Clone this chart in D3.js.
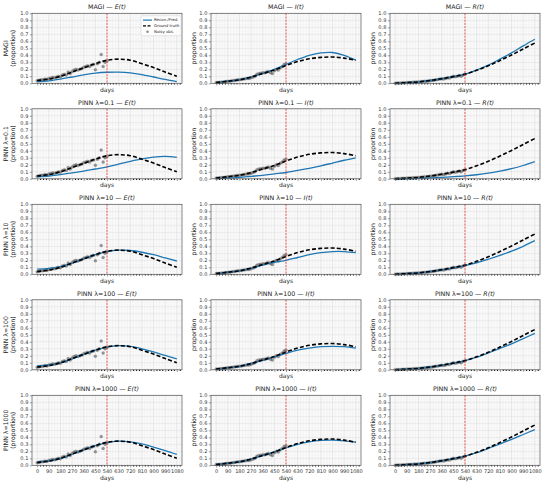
<!DOCTYPE html>
<html>
<head>
<meta charset="utf-8">
<script src="https://d3js.org/d3.v7.min.js"></script>
<style>
body {margin:0; background:#fff;}
svg text {font-family:'DejaVu Sans', sans-serif;}
</style>
</head>
<body>
<svg id="chart" width="550" height="486"></svg>
<script>
// ---- data ----
var days = [0, 90, 180, 270, 360, 450, 540, 630, 720, 810, 900, 990, 1080];
var xTicks = [0, 90, 180, 270, 360, 450, 540, 630, 720, 810, 900, 990, 1080];
var yTicks = [0, 0.1, 0.2, 0.3, 0.4, 0.5, 0.6, 0.7, 0.8, 0.9, 1.0];
var cutDay = 540;

var rowNames = ['MAGI', 'PINN \u03bb=0.1', 'PINN \u03bb=10', 'PINN \u03bb=100', 'PINN \u03bb=1000'];
var compNames = ['E', 'I', 'R'];

var truthE = [0.04, 0.06, 0.10, 0.16, 0.22, 0.28, 0.33, 0.345, 0.33, 0.28, 0.225, 0.16, 0.10];
var truthI = [0.01, 0.03, 0.05, 0.09, 0.14, 0.19, 0.255, 0.31, 0.35, 0.37, 0.375, 0.36, 0.33];
var truthR = [0.0, 0.01, 0.02, 0.04, 0.065, 0.095, 0.13, 0.185, 0.25, 0.325, 0.405, 0.49, 0.575];

// predictions, one array per row (MAGI, PINN 0.1, 10, 100, 1000)
var predE = [
  [0.02, 0.035, 0.06, 0.09, 0.12, 0.145, 0.158, 0.16, 0.15, 0.125, 0.09, 0.055, 0.025],
  [0.03, 0.04, 0.06, 0.085, 0.11, 0.14, 0.17, 0.21, 0.25, 0.285, 0.31, 0.32, 0.305],
  [0.075, 0.085, 0.11, 0.16, 0.22, 0.28, 0.325, 0.345, 0.34, 0.315, 0.28, 0.235, 0.19],
  [0.055, 0.07, 0.10, 0.155, 0.22, 0.28, 0.325, 0.345, 0.335, 0.30, 0.255, 0.205, 0.155],
  [0.045, 0.065, 0.10, 0.16, 0.22, 0.28, 0.325, 0.345, 0.335, 0.305, 0.26, 0.21, 0.155]
];
var predI = [
  [0.01, 0.03, 0.05, 0.09, 0.14, 0.20, 0.27, 0.34, 0.40, 0.435, 0.44, 0.40, 0.33],
  [0.005, 0.01, 0.02, 0.035, 0.05, 0.07, 0.09, 0.12, 0.15, 0.185, 0.225, 0.265, 0.30],
  [0.01, 0.03, 0.05, 0.085, 0.13, 0.17, 0.20, 0.24, 0.28, 0.31, 0.325, 0.325, 0.31],
  [0.01, 0.03, 0.05, 0.09, 0.135, 0.185, 0.235, 0.28, 0.31, 0.33, 0.335, 0.33, 0.31],
  [0.01, 0.03, 0.05, 0.09, 0.14, 0.19, 0.25, 0.30, 0.335, 0.355, 0.36, 0.35, 0.33]
];
var predR = [
  [0.0, 0.01, 0.02, 0.04, 0.065, 0.095, 0.13, 0.19, 0.26, 0.345, 0.435, 0.535, 0.63],
  [0.0, 0.002, 0.006, 0.012, 0.02, 0.03, 0.042, 0.058, 0.08, 0.11, 0.145, 0.19, 0.245],
  [0.0, 0.01, 0.02, 0.04, 0.063, 0.092, 0.125, 0.165, 0.215, 0.27, 0.33, 0.40, 0.48],
  [0.0, 0.01, 0.02, 0.04, 0.065, 0.095, 0.13, 0.18, 0.24, 0.305, 0.37, 0.445, 0.52],
  [0.0, 0.01, 0.02, 0.04, 0.065, 0.095, 0.13, 0.18, 0.24, 0.305, 0.37, 0.44, 0.51]
];

// noisy observations (same for every row)
var obsDays = [0, 15, 30, 45, 60, 75, 90, 105, 120, 135, 150, 165, 180, 195, 210, 225, 240, 255, 270,
  285, 300, 315, 330, 345, 360, 375, 390, 405, 420, 435, 450, 465, 480, 495, 510, 525, 540];
var obsE = [0.035, 0.045, 0.05, 0.05, 0.06, 0.055, 0.07, 0.075, 0.085, 0.08, 0.09, 0.10, 0.095, 0.12, 0.13,
  0.12, 0.16, 0.14, 0.17, 0.19, 0.20, 0.19, 0.20, 0.21, 0.23, 0.24, 0.25, 0.24, 0.26, 0.27, 0.195, 0.28,
  0.30, 0.41, 0.24, 0.30, 0.32];
var obsI = [0.01, 0.012, 0.015, 0.018, 0.02, 0.025, 0.03, 0.03, 0.035, 0.04, 0.045, 0.05, 0.05, 0.055, 0.06,
  0.065, 0.07, 0.07, 0.08, 0.09, 0.10, 0.13, 0.14, 0.145, 0.15, 0.15, 0.16, 0.17, 0.15, 0.14, 0.18, 0.20,
  0.19, 0.22, 0.24, 0.27, 0.28];
var obsR = [0.002, 0.003, 0.004, 0.005, 0.007, 0.008, 0.01, 0.011, 0.013, 0.015, 0.017, 0.019, 0.02, 0.023,
  0.026, 0.028, 0.031, 0.034, 0.038, 0.04, 0.045, 0.05, 0.055, 0.06, 0.065, 0.062, 0.07, 0.08, 0.075, 0.09,
  0.10, 0.095, 0.10, 0.11, 0.10, 0.12, 0.13];

var truthAll = [truthE, truthI, truthR];
var predAll = [predE, predI, predR];
var obsAll = [obsE, obsI, obsR];

// ---- layout ----
var colLeft = [32, 211, 390];
var rowTop = [13.3, 108.8, 204.3, 299.8, 395.3];
var pw = 150, ph = 70;
var blue = '#1f77b4';

var svg = d3.select('#chart');

var x = d3.scaleLinear().domain([-40, 1120]).range([0, pw]);
var y = d3.scaleLinear().domain([0, 1]).range([ph, 0]);

var minorX = d3.range(0, 1125, 22.5).filter(function(d) {return d % 90 !== 0;});
var minorY = d3.range(0, 1.001, 0.02).filter(function(d) {return Math.round(d * 100) % 10 !== 0;});

var line = d3.line()
  .x(function(d, i) {return x(days[i]);})
  .y(function(d) {return y(d);})
  .curve(d3.curveCatmullRom.alpha(0.5));

rowNames.forEach(function(rn, r) {
  compNames.forEach(function(cn, c) {
    var g = svg.append('g')
      .attr('transform', 'translate(' + colLeft[c] + ',' + rowTop[r] + ')');

    // grid
    g.selectAll('.gminx').data(minorX).enter().append('line')
      .attr('x1', function(d) {return x(d);}).attr('x2', function(d) {return x(d);})
      .attr('y1', 0).attr('y2', ph)
      .attr('stroke', '#ececec').attr('stroke-width', 0.4);
    g.selectAll('.gminy').data(minorY).enter().append('line')
      .attr('y1', function(d) {return y(d);}).attr('y2', function(d) {return y(d);})
      .attr('x1', 0).attr('x2', pw)
      .attr('stroke', '#ececec').attr('stroke-width', 0.4);
    g.selectAll('.gmajx').data(xTicks).enter().append('line')
      .attr('x1', function(d) {return x(d);}).attr('x2', function(d) {return x(d);})
      .attr('y1', 0).attr('y2', ph)
      .attr('stroke', '#d4d4d4').attr('stroke-width', 0.5);
    g.selectAll('.gmajy').data(yTicks).enter().append('line')
      .attr('y1', function(d) {return y(d);}).attr('y2', function(d) {return y(d);})
      .attr('x1', 0).attr('x2', pw)
      .attr('stroke', '#d4d4d4').attr('stroke-width', 0.5);

    // observations
    g.selectAll('.obs').data(obsAll[c]).enter().append('circle')
      .attr('cx', function(d, i) {return x(obsDays[i]);})
      .attr('cy', function(d) {return y(d);})
      .attr('r', 1.5)
      .attr('fill', '#555').attr('fill-opacity', 0.6)
      .attr('stroke', '#444').attr('stroke-opacity', 0.5).attr('stroke-width', 0.3);

    // prediction and truth
    g.append('path').attr('d', line(predAll[c][r]))
      .attr('fill', 'none').attr('stroke', blue).attr('stroke-width', 1.3);
    g.append('path').attr('d', line(truthAll[c]))
      .attr('fill', 'none').attr('stroke', '#000').attr('stroke-width', 1.6)
      .attr('stroke-dasharray', '4,2.2');

    // cut-off line
    g.append('line')
      .attr('x1', x(cutDay)).attr('x2', x(cutDay)).attr('y1', 0).attr('y2', ph)
      .attr('stroke', '#e8312f').attr('stroke-width', 0.8).attr('stroke-dasharray', '2,1.2');

    // axes
    var bottom = r === rowNames.length - 1;
    var xa = g.append('g').attr('transform', 'translate(0,' + ph + ')')
      .call(d3.axisBottom(x).tickValues(xTicks).tickSize(2.2).tickPadding(1.5)
        .tickFormat(bottom ? d3.format('d') : ''));
    g.append('g').attr('transform', 'translate(0,' + ph + ')')
      .call(d3.axisBottom(x).tickValues(minorX).tickSize(1.2).tickFormat(''))
      .call(function(s) {s.select('.domain').remove();});
    var ya = g.append('g')
      .call(d3.axisLeft(y).tickValues(yTicks).tickSize(2.2).tickPadding(1.5).tickFormat(d3.format('.1f')));
    [xa, ya].forEach(function(a) {
      a.selectAll('text').attr('font-size', 5).attr('fill', '#333');
      a.selectAll('line').attr('stroke', '#444').attr('stroke-width', 0.5);
      a.select('.domain').remove();
    });

    // frame
    g.append('rect').attr('width', pw).attr('height', ph)
      .attr('fill', 'none').attr('stroke', '#555').attr('stroke-width', 0.7);

    // title
    var t = g.append('text').attr('x', pw / 2).attr('y', -4)
      .attr('text-anchor', 'middle').attr('font-size', 6.3).attr('fill', '#222');
    t.append('tspan').text(rn + ' \u2014 ');
    t.append('tspan').attr('font-style', 'italic').text(cn + '(t)');

    // x label
    g.append('text').attr('x', pw / 2).attr('y', ph + (bottom ? 15 : 8.5))
      .attr('text-anchor', 'middle').attr('font-size', 6).attr('fill', '#222').text('days');

    // y label
    if (c === 0) {
      var yl = g.append('text').attr('transform', 'translate(-21,' + (ph / 2) + ') rotate(-90)')
        .attr('text-anchor', 'middle').attr('font-size', 6.2).attr('fill', '#222');
      yl.append('tspan').attr('x', 0).attr('dy', -3.3).text(rn);
      yl.append('tspan').attr('x', 0).attr('dy', 7).text('(proportion)');
    } else {
      g.append('text').attr('transform', 'translate(-15,' + (ph / 2) + ') rotate(-90)')
        .attr('text-anchor', 'middle').attr('font-size', 6.2).attr('fill', '#222').text('proportion');
    }

    // legend only in first panel
    if (r === 0 && c === 0) {
      var lg = g.append('g').attr('transform', 'translate(' + (pw - 41) + ',2.5)');
      lg.append('rect').attr('width', 40).attr('height', 20).attr('rx', 1.2)
        .attr('fill', '#fff').attr('fill-opacity', 0.85).attr('stroke', '#ccc').attr('stroke-width', 0.5);
      var items = ['Recon./Pred.', 'Ground truth', 'Noisy obs.'];
      items.forEach(function(name, k) {
        var yy = 4.3 + k * 5.8;
        if (k === 0) {
          lg.append('line').attr('x1', 2).attr('x2', 11).attr('y1', yy).attr('y2', yy)
            .attr('stroke', blue).attr('stroke-width', 1.2);
        } else if (k === 1) {
          lg.append('line').attr('x1', 2).attr('x2', 11).attr('y1', yy).attr('y2', yy)
            .attr('stroke', '#000').attr('stroke-width', 1.4).attr('stroke-dasharray', '3,1.5');
        } else {
          lg.append('circle').attr('cx', 6.5).attr('cy', yy).attr('r', 1.2)
            .attr('fill', '#555').attr('fill-opacity', 0.7);
        }
        lg.append('text').attr('x', 13).attr('y', yy + 1.4).attr('font-size', 3.9)
          .attr('fill', '#222').text(name);
      });
    }
  });
});
</script>
</body>
</html>
